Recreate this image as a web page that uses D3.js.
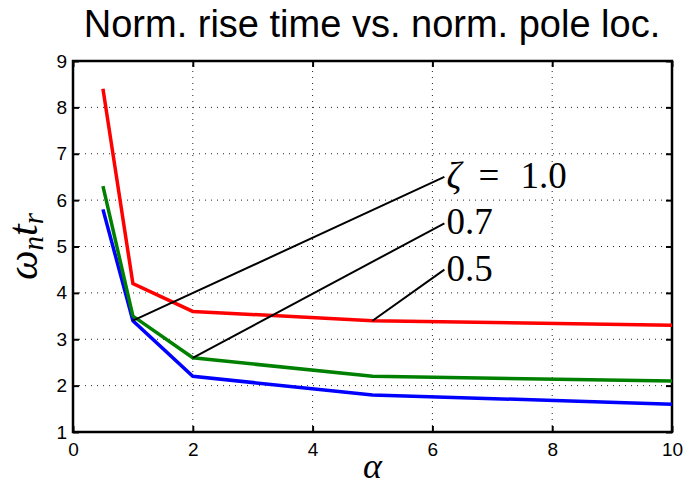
<!DOCTYPE html>
<html>
<head>
<meta charset="utf-8">
<script src="https://cdn.jsdelivr.net/npm/d3@7"></script>
<style>
  body { margin: 0; background: #fff; }
</style>
</head>
<body>
<div id="chart"></div>
<script>
/* DATA */
const alphas = [0.5, 1, 2, 5, 10];
const zeta10 = [8.4, 4.2, 3.6, 3.4, 3.3];
const zeta07 = [6.3, 3.5, 2.6, 2.2, 2.1];
const zeta05 = [5.8, 3.4, 2.2, 1.8, 1.6];
const xTicks = [0, 2, 4, 6, 8, 10];
const yTicks = [1, 2, 3, 4, 5, 6, 7, 8, 9];
// annotation lines: start point on a curve, end point by the label
const notes = [
  { label: ["ζ", "=", "1.0"], from: [1, 3.4], to: [6.2, 6.5] },
  { label: ["0.7"], from: [2, 2.6], to: [6.2, 5.5] },
  { label: ["0.5"], from: [5, 3.4], to: [6.2, 4.5] }
];

const width = 696, height = 487,
  margin = { top: 61, right: 24, bottom: 55, left: 73 };
const sans = "'Liberation Sans', Arial, Helvetica, sans-serif";
const serif = "'Liberation Serif', 'Times New Roman', serif";

const svg = d3.select("#chart").append("svg")
  .attr("width", width).attr("height", height);

const x = d3.scaleLinear().domain([0, 10]).range([margin.left, width - margin.right]);
const y = d3.scaleLinear().domain([1, 9]).range([height - margin.bottom, margin.top]);

// grid
svg.append("g").selectAll("line")
  .data(xTicks.slice(1, -1)).join("line")
  .attr("x1", d => x(d)).attr("x2", d => x(d))
  .attr("y1", y(1)).attr("y2", y(9))
  .attr("stroke", "#222").attr("stroke-width", 1).attr("stroke-dasharray", "1,5");
svg.append("g").selectAll("line")
  .data(yTicks.slice(1, -1)).join("line")
  .attr("y1", d => y(d)).attr("y2", d => y(d))
  .attr("x1", x(0)).attr("x2", x(10))
  .attr("stroke", "#222").attr("stroke-width", 1).attr("stroke-dasharray", "1,5");

// axes (ticks inward)
svg.append("g").attr("transform", `translate(0,${y(1)})`)
  .call(d3.axisBottom(x).tickValues(xTicks).tickSize(-6).tickPadding(11));
svg.append("g").attr("transform", `translate(${x(0)},0)`)
  .call(d3.axisLeft(y).tickValues(yTicks).tickSize(-6).tickPadding(6));
svg.append("g").attr("transform", `translate(0,${y(9)})`)
  .call(d3.axisTop(x).tickValues(xTicks).tickSize(-6).tickFormat(""));
svg.append("g").attr("transform", `translate(${x(10)},0)`)
  .call(d3.axisRight(y).tickValues(yTicks).tickSize(-6).tickFormat(""));
svg.selectAll(".domain").remove();
svg.selectAll(".tick line").attr("stroke", "#000").attr("stroke-width", 2);
svg.selectAll(".tick text")
  .attr("font-family", sans).attr("font-size", 19).attr("fill", "#000");

svg.append("rect")
  .attr("x", x(0)).attr("y", y(9))
  .attr("width", x(10) - x(0)).attr("height", y(1) - y(9))
  .attr("fill", "none").attr("stroke", "#000").attr("stroke-width", 2.5);

// series
const line = d3.line().x((d, i) => x(alphas[i])).y(d => y(d));
[[zeta05, "#0000ff"], [zeta07, "#008000"], [zeta10, "#ff0000"]].forEach(([vals, col]) => {
  svg.append("path").datum(vals)
    .attr("d", line)
    .attr("fill", "none").attr("stroke", col).attr("stroke-width", 3.5);
});

// annotations
const partDx = [0, 32, 74];
notes.forEach(n => {
  svg.append("line")
    .attr("x1", x(n.from[0])).attr("y1", y(n.from[1]))
    .attr("x2", x(n.to[0])).attr("y2", y(n.to[1]))
    .attr("stroke", "#000").attr("stroke-width", 2);
  const t = svg.append("text")
    .attr("y", y(n.to[1]) + 11)
    .attr("font-family", serif).attr("font-size", 37).attr("fill", "#000");
  n.label.forEach((s, i) => {
    t.append("tspan").attr("x", x(n.to[0]) + 2 + partDx[i])
      .attr("font-style", s === "ζ" ? "italic" : null)
      .text(s);
  });
});

// title
svg.append("text")
  .attr("x", 372).attr("y", 37).attr("text-anchor", "middle")
  .attr("font-family", sans).attr("font-size", 38).attr("fill", "#000")
  .text("Norm. rise time vs. norm. pole loc.");

// axis labels
svg.append("text")
  .attr("x", x(5)).attr("y", 478).attr("text-anchor", "middle")
  .attr("font-family", serif).attr("font-style", "italic").attr("font-size", 36)
  .text("α");

const yl = svg.append("text")
  .attr("transform", `translate(37,${(y(1) + y(9)) / 2}) rotate(-90)`)
  .attr("text-anchor", "middle")
  .attr("font-family", serif).attr("font-style", "italic").attr("font-size", 42);
yl.append("tspan").text("ω");
yl.append("tspan").attr("font-size", 29).attr("dy", 6).text("n");
yl.append("tspan").attr("dy", -6).text("t");
yl.append("tspan").attr("font-size", 29).attr("dy", 6).text("r");
</script>
</body>
</html>
